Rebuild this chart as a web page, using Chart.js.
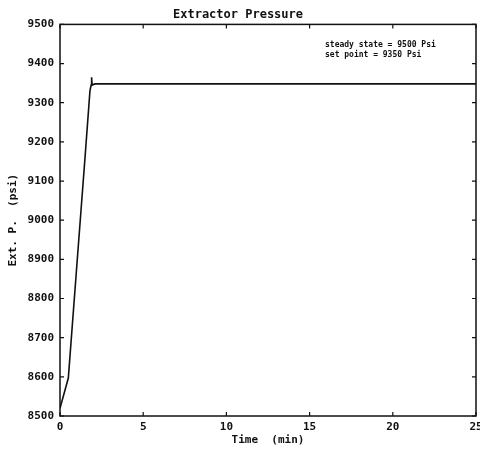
<!DOCTYPE html>
<html lang="en">
<head>
    <meta charset="UTF-8">
    <title>Extractor Pressure</title>
    <style>
        html, body {
            margin: 0;
            padding: 0;
            background: #ffffff;
        }
        #chartBox {
            width: 480px;
            height: 456px;
        }
    </style>
    <script src="https://cdn.jsdelivr.net/npm/chart.js"></script>
</head>
<body>

<div id="chartBox">
    <canvas id="myChart" width="480" height="456"></canvas>
</div>

<script>
    // values
    const timeMin = [0, 0.5, 1.0, 1.5, 1.8, 1.87, 1.9, 1.93, 2.1, 25];
    const pressure = [8520, 8597, 8878, 9158, 9330, 9345, 9365, 9345, 9348, 9348];
    const xTicks = [0, 5, 10, 15, 20, 25];
    const yTicks = [8500, 8600, 8700, 8800, 8900, 9000, 9100, 9200, 9300, 9400, 9500];
    const noteLines = ['steady state = 9500 Psi', 'set point = 9350 Psi'];

    const ink = '#111111';
    const mono = "'DejaVu Sans Mono', monospace";

    Chart.defaults.font.family = mono;
    Chart.defaults.font.weight = 'bold';
    Chart.defaults.color = ink;

    const points = timeMin.map((t, i) => ({ x: t, y: pressure[i] }));

    // box round the plot, with inward ticks on all four sides, plus the note
    const framePlugin = {
        id: 'frame',
        afterDraw(chart) {
            const { ctx, chartArea: a, scales } = chart;
            ctx.save();
            ctx.strokeStyle = ink;
            ctx.lineWidth = 1.5;
            ctx.strokeRect(a.left, a.top, a.right - a.left, a.bottom - a.top);

            ctx.lineWidth = 1.2;
            ctx.beginPath();
            xTicks.forEach(v => {
                const px = scales.x.getPixelForValue(v);
                ctx.moveTo(px, a.bottom); ctx.lineTo(px, a.bottom - 4);
                ctx.moveTo(px, a.top); ctx.lineTo(px, a.top + 4);
            });
            yTicks.forEach(v => {
                const py = scales.y.getPixelForValue(v);
                ctx.moveTo(a.left, py); ctx.lineTo(a.left + 4, py);
                ctx.moveTo(a.right, py); ctx.lineTo(a.right - 4, py);
            });
            ctx.stroke();

            ctx.fillStyle = ink;
            ctx.font = "bold 8px " + mono;
            ctx.textBaseline = 'middle';
            ctx.textAlign = 'left';
            ctx.fillText(noteLines[0], 325, 45);
            ctx.fillText(noteLines[1], 325, 55);
            ctx.restore();
        }
    };

    new Chart(document.getElementById('myChart'), {
        type: 'line',
        data: {
            datasets: [{
                data: points,
                borderColor: ink,
                borderWidth: 1.6,
                borderJoinStyle: 'miter',
                pointRadius: 0,
                tension: 0,
                fill: false
            }]
        },
        options: {
            responsive: false,
            animation: false,
            layout: {
                autoPadding: false,
                padding: { left: 0, right: 4, top: 0, bottom: 0 }
            },
            plugins: {
                legend: { display: false },
                tooltip: { enabled: false },
                title: {
                    display: true,
                    text: 'Extractor Pressure',
                    color: ink,
                    font: { size: 12, weight: 'bold', family: mono },
                    padding: { top: 8, bottom: 2 }
                }
            },
            scales: {
                x: {
                    type: 'linear',
                    min: 0,
                    max: 25,
                    afterBuildTicks: s => { s.ticks = xTicks.map(v => ({ value: v })); },
                    afterFit: s => { s.height = 40; s.paddingLeft = 0; s.paddingRight = 0; },
                    grid: { display: false, drawTicks: false, tickLength: 0 },
                    border: { display: false },
                    ticks: { font: { size: 11 }, padding: 5, maxRotation: 0 },
                    title: {
                        display: true,
                        text: 'Time  (min)',
                        font: { size: 11 },
                        padding: { top: 0, bottom: 9 }
                    }
                },
                y: {
                    type: 'linear',
                    min: 8500,
                    max: 9500,
                    afterBuildTicks: s => { s.ticks = yTicks.map(v => ({ value: v })); },
                    afterFit: s => { s.width = 60; },
                    grid: { display: false, drawTicks: false, tickLength: 0 },
                    border: { display: false },
                    ticks: { font: { size: 11 }, padding: 6, callback: v => String(v) },
                    title: {
                        display: true,
                        text: 'Ext. P.  (psi)',
                        font: { size: 11 },
                        padding: { top: 7, bottom: 4 }
                    }
                }
            }
        },
        plugins: [framePlugin]
    });
</script>

</body>
</html>
